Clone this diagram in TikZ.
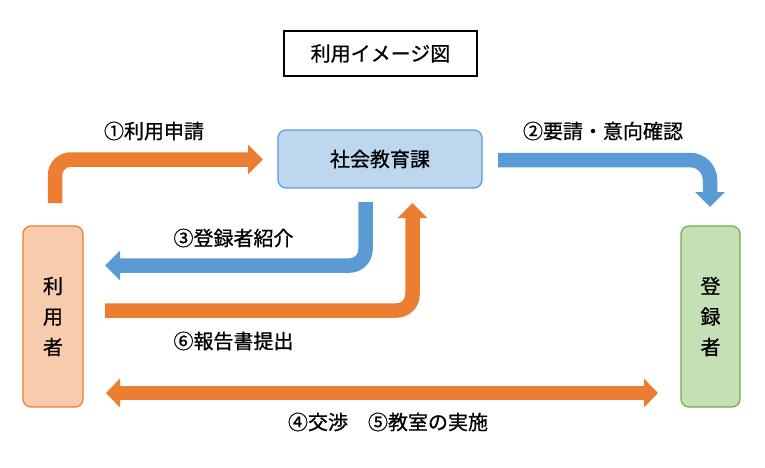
\documentclass[tikz,border=0pt]{standalone}
\usepackage{fontspec}
\setmainfont{Noto Sans CJK JP}[BoldFont={Noto Sans CJK JP}, BoldFeatures={FakeBold=0.8}]
\usetikzlibrary{arrows.meta}
\definecolor{orng}{HTML}{ED7D31}
\definecolor{blu}{HTML}{5B9BD5}
\definecolor{bluefill}{HTML}{BDD7EE}
\definecolor{orfill}{HTML}{F8CBAD}
\definecolor{grfill}{HTML}{C5E0B4}
\definecolor{grline}{HTML}{70AD47}
\tikzset{
  lbl/.style={font=\fontsize{20}{24}\selectfont\bfseries, inner sep=0pt},
  box/.style={rounded corners=8pt, line width=1.2pt, inner sep=0pt},
  vbox/.style={box, minimum width=60pt, minimum height=181pt, align=center,
     font=\fontsize{20}{30.5}\selectfont\bfseries},
  blockarrow/.style={line width=14.5pt, -{Triangle[length=15pt,width=29pt]}},
  dblarrow/.style={line width=14pt, {Triangle[length=14pt,width=28pt]}-{Triangle[length=14pt,width=28pt]}}
}
\begin{document}
\begin{tikzpicture}[x=1pt,y=-1pt]
\useasboundingbox (0,0) rectangle (765,467);
% nodes
\node[draw=black, line width=1.2pt, minimum width=193pt, minimum height=45pt, lbl] (title) at (380.5,53.5) {利用イメージ図};
\node[box, draw=blu, fill=bluefill, minimum width=204pt, minimum height=58pt, lbl] (shakai) at (380,159) {社会教育課};
\node[vbox, draw=orng, fill=orfill] (riyo) at (53,316.5) {利\\用\\者};
\node[vbox, draw=grline, fill=grfill, minimum width=59pt] (toroku) at (710.5,316.5) {登\\録\\者};
% coordinates
\coordinate (a1s) at (55,203);
\coordinate (a1e) at (263,159.5);
\coordinate (a2s) at (498,160);
\coordinate (a2e) at (710,207);
\coordinate (a3s) at (365.5,202);
\coordinate (a3e) at (105,265.5);
\coordinate (a6s) at (105,310.5);
\coordinate (a6e) at (412.5,203);
\coordinate (a4s) at (106,393);
\coordinate (a4e) at (658,393);
% arrows
\draw[blockarrow, orng, rounded corners=16pt] (a1s) |- (a1e);
\draw[blockarrow, blu, rounded corners=20pt] (a2s) -| (a2e);
\draw[blockarrow, blu, rounded corners=16pt] (a3s) |- (a3e);
\draw[blockarrow, orng, rounded corners=16pt] (a6s) -| (a6e);
\draw[dblarrow, orng] (a4s) -- (a4e);
% labels
\node[lbl] (l1) at (154,131) {①利用申請};
\node[lbl] (l2) at (603,131) {②要請・意向確認};
\node[lbl] (l3) at (233.5,238) {③登録者紹介};
\node[lbl] (l6) at (233.5,341) {⑥報告書提出};
\node[lbl] (l4) at (388,422) {④交渉　⑤教室の実施};
\end{tikzpicture}
\end{document}
